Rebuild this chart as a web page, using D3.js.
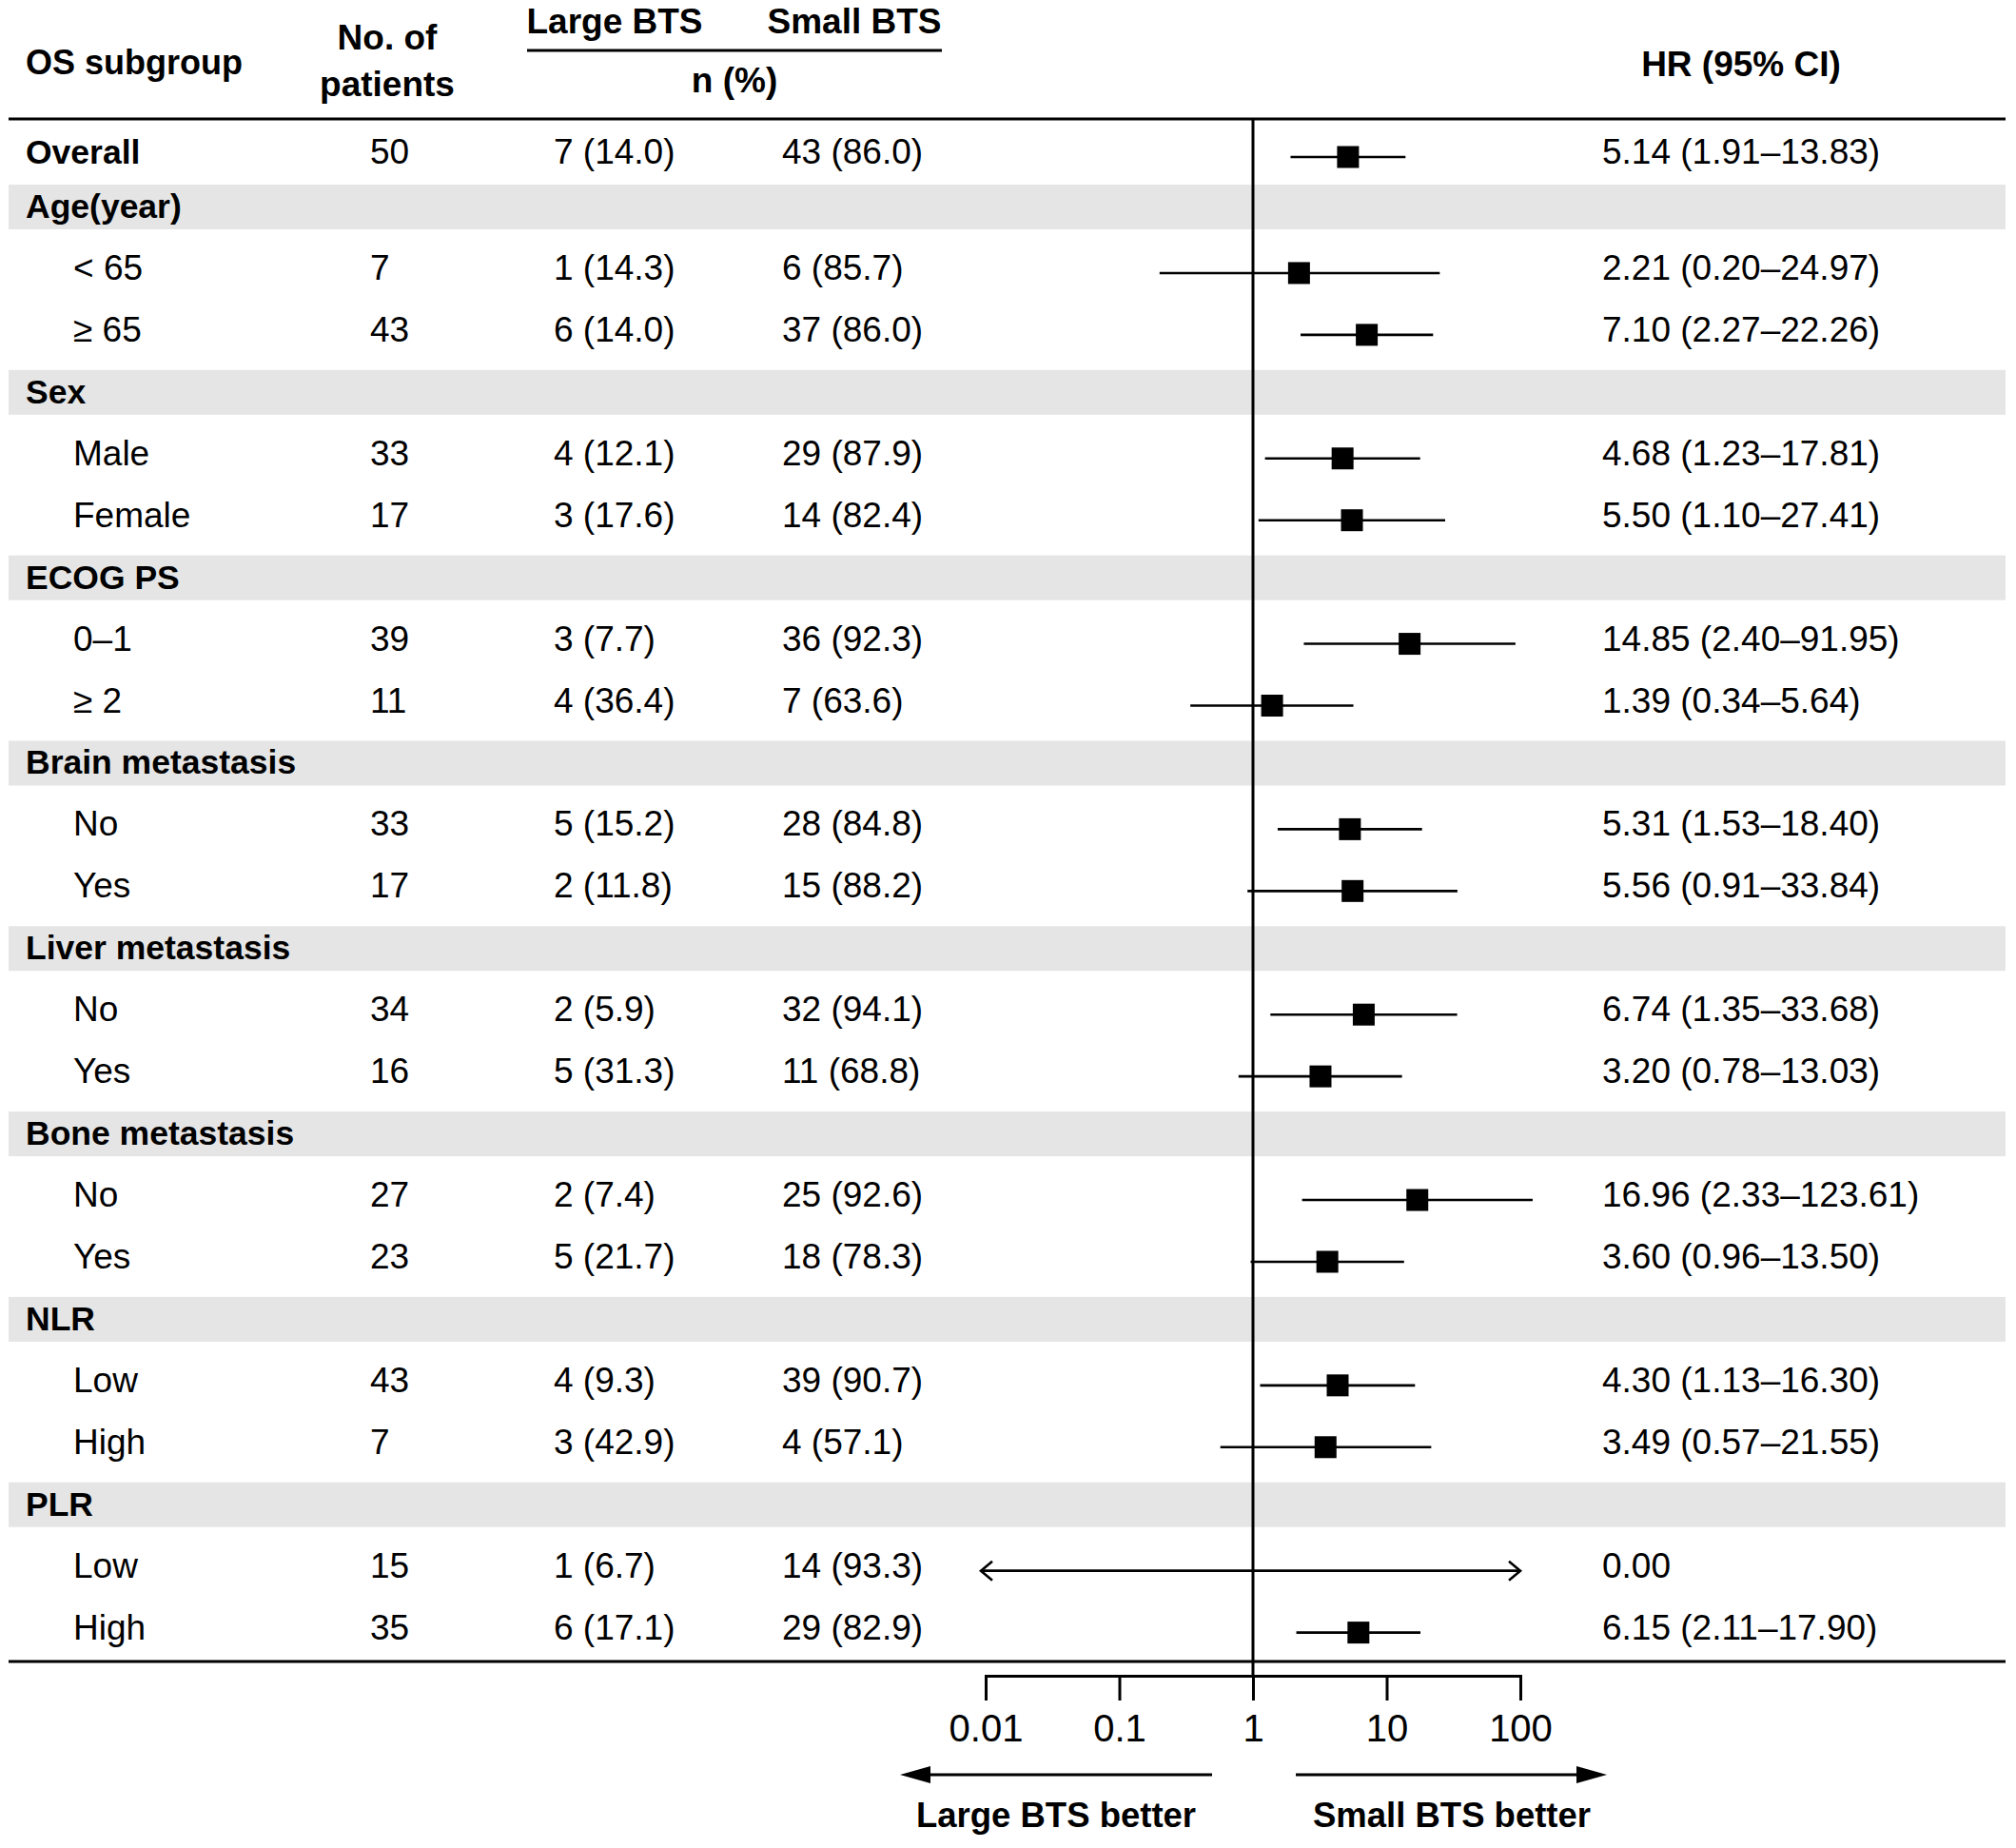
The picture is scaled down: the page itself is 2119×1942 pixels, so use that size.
<!DOCTYPE html>
<html lang="en">
<head>
  <meta charset="UTF-8">
  <style>
    body { margin: 0; background: #fff; }
    svg text { font-family: "Liberation Sans", Arial, sans-serif; fill: #000; }
    .bold { font-weight: bold; }
  </style>
</head>
<body>
  <svg class="chart"></svg>
  <script src="https://cdnjs.cloudflare.com/ajax/libs/d3/7.8.5/d3.min.js"></script>
  <script>
    // rows, top to bottom ('group' rows are the grey bands)
    const labels = ['Overall', 'Age(year)', '< 65', '≥ 65', 'Sex', 'Male', 'Female',
      'ECOG PS', '0–1', '≥ 2', 'Brain metastasis', 'No', 'Yes',
      'Liver metastasis', 'No', 'Yes', 'Bone metastasis', 'No', 'Yes',
      'NLR', 'Low', 'High', 'PLR', 'Low', 'High']
    const rowType = ['overall', 'group', 'sub', 'sub', 'group', 'sub', 'sub',
      'group', 'sub', 'sub', 'group', 'sub', 'sub',
      'group', 'sub', 'sub', 'group', 'sub', 'sub',
      'group', 'sub', 'sub', 'group', 'sub', 'sub']
    const patients = [50, null, 7, 43, null, 33, 17, null, 39, 11, null, 33, 17,
      null, 34, 16, null, 27, 23, null, 43, 7, null, 15, 35]
    const largeBts = ['7 (14.0)', null, '1 (14.3)', '6 (14.0)', null, '4 (12.1)', '3 (17.6)',
      null, '3 (7.7)', '4 (36.4)', null, '5 (15.2)', '2 (11.8)',
      null, '2 (5.9)', '5 (31.3)', null, '2 (7.4)', '5 (21.7)',
      null, '4 (9.3)', '3 (42.9)', null, '1 (6.7)', '6 (17.1)']
    const smallBts = ['43 (86.0)', null, '6 (85.7)', '37 (86.0)', null, '29 (87.9)', '14 (82.4)',
      null, '36 (92.3)', '7 (63.6)', null, '28 (84.8)', '15 (88.2)',
      null, '32 (94.1)', '11 (68.8)', null, '25 (92.6)', '18 (78.3)',
      null, '39 (90.7)', '4 (57.1)', null, '14 (93.3)', '29 (82.9)']
    const hr = [5.14, null, 2.21, 7.10, null, 4.68, 5.50, null, 14.85, 1.39, null, 5.31, 5.56,
      null, 6.74, 3.20, null, 16.96, 3.60, null, 4.30, 3.49, null, 0.00, 6.15]
    const ciLow = [1.91, null, 0.20, 2.27, null, 1.23, 1.10, null, 2.40, 0.34, null, 1.53, 0.91,
      null, 1.35, 0.78, null, 2.33, 0.96, null, 1.13, 0.57, null, null, 2.11]
    const ciHigh = [13.83, null, 24.97, 22.26, null, 17.81, 27.41, null, 91.95, 5.64, null, 18.40, 33.84,
      null, 33.68, 13.03, null, 123.61, 13.50, null, 16.30, 21.55, null, null, 17.90]
    const tickValues = [0.01, 0.1, 1, 10, 100]
    const tickLabels = ['0.01', '0.1', '1', '10', '100']

    const W = 2119, H = 1942
    const svg = d3.select('.chart').attr('width', W).attr('height', H)

    const x = d3.scaleLog().domain([0.01, 100]).range([1036, 1598])
    const yRow = d3.scaleLinear().domain([1, 24]).range([219, 1712.6])
    const rowY = i => i === 0 ? yRow(1) - 57 : yRow(i)

    const tableLeft = 9, tableRight = 2108
    const topLine = 125, bottomLine = 1746, axisY = 1761

    const rows = labels.map((d, i) => ({
      i, label: d, type: rowType[i], n: patients[i], large: largeBts[i], small: smallBts[i],
      hr: hr[i], lo: ciLow[i], hi: ciHigh[i]
    }))

    // grey bands behind group rows
    svg.append('g').selectAll('rect')
      .data(rows.filter(d => d.type === 'group'))
      .enter().append('rect')
        .attr('x', tableLeft)
        .attr('y', d => rowY(d.i) - 25)
        .attr('width', tableRight - tableLeft)
        .attr('height', 47)
        .attr('fill', '#e5e5e5')

    // header
    const head = svg.append('g').attr('class', 'bold').style('font-size', '37px')
    head.append('text').attr('x', 27).attr('y', 78).style('font-size', '36px').text('OS subgroup')
    head.append('text').attr('x', 407).attr('y', 52).attr('text-anchor', 'middle').text('No. of')
    head.append('text').attr('x', 407).attr('y', 101).attr('text-anchor', 'middle').text('patients')
    head.append('text').attr('x', 646).attr('y', 35).attr('text-anchor', 'middle').text('Large BTS')
    head.append('text').attr('x', 898).attr('y', 35).attr('text-anchor', 'middle').text('Small BTS')
    head.append('text').attr('x', 772).attr('y', 97).attr('text-anchor', 'middle').text('n (%)')
    head.append('text').attr('x', 1830).attr('y', 80).attr('text-anchor', 'middle').text('HR (95% CI)')
    svg.append('line').attr('x1', 554).attr('x2', 990).attr('y1', 53).attr('y2', 53)
      .attr('stroke', '#000').attr('stroke-width', 3)

    // table rules
    svg.selectAll('line.rule')
      .data([topLine, bottomLine])
      .enter().append('line')
        .attr('class', 'rule')
        .attr('x1', tableLeft).attr('x2', tableRight)
        .attr('y1', d => d).attr('y2', d => d)
        .attr('stroke', '#000').attr('stroke-width', 3)

    // reference line at HR = 1
    svg.append('line')
      .attr('x1', x(1)).attr('x2', x(1))
      .attr('y1', topLine).attr('y2', axisY)
      .attr('stroke', '#000').attr('stroke-width', 3)

    // text columns
    const body = svg.append('g').style('font-size', '37px')
    const row = body.selectAll('g.row')
      .data(rows)
      .enter().append('g')
        .attr('class', 'row')
        .attr('transform', d => `translate(0,${rowY(d.i) + 10})`)

    row.append('text')
      .attr('x', d => d.type === 'sub' ? 77 : 27)
      .attr('class', d => d.type === 'sub' ? null : 'bold')
      .style('font-size', d => d.type === 'sub' ? null : '35.5px')
      .text(d => d.label)
    row.filter(d => d.n !== null).append('text').attr('x', 389).text(d => d.n)
    row.filter(d => d.large !== null).append('text').attr('x', 582).text(d => d.large)
    row.filter(d => d.small !== null).append('text').attr('x', 822).text(d => d.small)
    row.filter(d => d.hr !== null).append('text').attr('x', 1684)
      .text(d => d.lo === null ? d.hr.toFixed(2)
        : `${d.hr.toFixed(2)} (${d.lo.toFixed(2)}–${d.hi.toFixed(2)})`)

    // forest marks
    const marks = svg.append('g')
    const est = rows.filter(d => d.hr !== null && d.lo !== null)
    marks.selectAll('line.ci')
      .data(est)
      .enter().append('line')
        .attr('class', 'ci')
        .attr('x1', d => x(d.lo)).attr('x2', d => x(d.hi))
        .attr('y1', d => rowY(d.i) + 3).attr('y2', d => rowY(d.i) + 3)
        .attr('stroke', '#000').attr('stroke-width', 2.6)
    const box = 23
    marks.selectAll('rect.est')
      .data(est)
      .enter().append('rect')
        .attr('class', 'est')
        .attr('x', d => x(d.hr) - box / 2)
        .attr('y', d => rowY(d.i) + 3 - box / 2)
        .attr('width', box).attr('height', box)
        .attr('fill', '#000')

    // non-estimable row: double-headed open arrow across the whole scale
    const open = rows.filter(d => d.hr !== null && d.lo === null)
    const [x0, x1] = x.range()
    open.forEach(d => {
      const yy = rowY(d.i) + 3
      const g = marks.append('g').attr('fill', 'none').attr('stroke', '#000').attr('stroke-width', 2.6)
      g.append('line').attr('x1', x0 - 5).attr('x2', x1).attr('y1', yy).attr('y2', yy)
      g.append('path').attr('d', `M${x0 + 7},${yy - 10}L${x0 - 5},${yy}L${x0 + 7},${yy + 10}`)
      g.append('path').attr('d', `M${x1 - 12},${yy - 10}L${x1},${yy}L${x1 - 12},${yy + 10}`)
    })

    // axis
    const axis = d3.axisBottom(x)
      .tickValues(tickValues)
      .tickFormat((d, i) => tickLabels[i])
      .tickSize(26)
      .tickSizeOuter(26)
      .tickPadding(15)
    const ax = svg.append('g')
      .attr('transform', `translate(0,${axisY})`)
      .call(axis)
    ax.selectAll('path, line').attr('stroke', '#000').attr('stroke-width', 3)
    ax.selectAll('text')
      .style('font-family', '"Liberation Sans", Arial, sans-serif')
      .style('font-size', '40px')
      .attr('fill', '#000')

    // direction arrows
    const arrowY = 1865
    const dir = svg.append('g')
    dir.append('line').attr('x1', x(1) - 43).attr('x2', x(1) - 340)
      .attr('y1', arrowY).attr('y2', arrowY).attr('stroke', '#000').attr('stroke-width', 3)
    dir.append('path').attr('d', `M${x(1) - 371},${arrowY}L${x(1) - 339},${arrowY - 9}L${x(1) - 339},${arrowY + 9}Z`)
    dir.append('line').attr('x1', x(1) + 45).attr('x2', x(1) + 342)
      .attr('y1', arrowY).attr('y2', arrowY).attr('stroke', '#000').attr('stroke-width', 3)
    dir.append('path').attr('d', `M${x(1) + 372},${arrowY}L${x(1) + 340},${arrowY - 9}L${x(1) + 340},${arrowY + 9}Z`)
    dir.append('text').attr('class', 'bold').style('font-size', '36.5px')
      .attr('x', 1110).attr('y', 1920).attr('text-anchor', 'middle').text('Large BTS better')
    dir.append('text').attr('class', 'bold').style('font-size', '36.5px')
      .attr('x', 1526).attr('y', 1920).attr('text-anchor', 'middle').text('Small BTS better')
  </script>
</body>
</html>
